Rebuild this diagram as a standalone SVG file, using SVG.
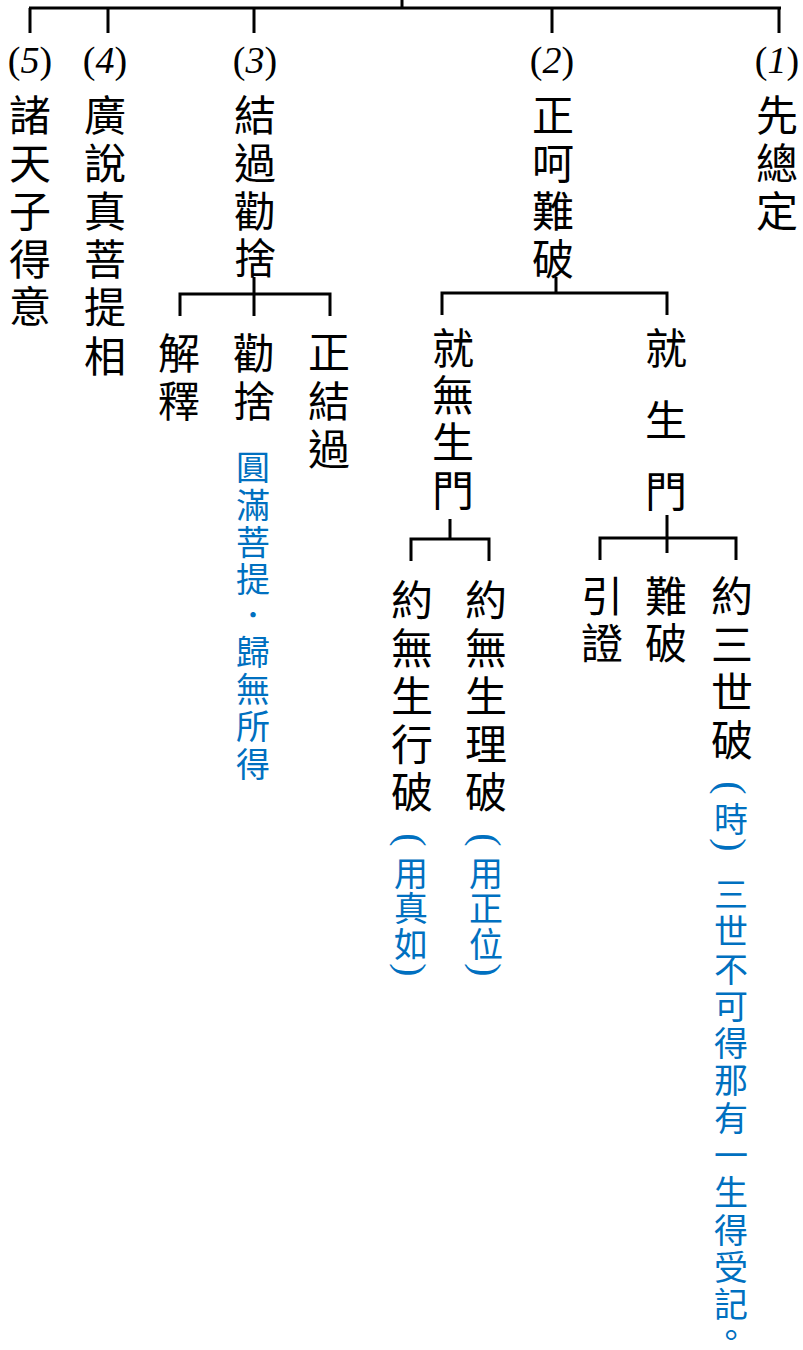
<svg xmlns="http://www.w3.org/2000/svg" width="803" height="1350" viewBox="0 0 803 1350">
<style>
.k{font-family:"Noto Sans CJK TC","Noto Sans CJK SC",sans-serif;font-size:42px;fill:#000;text-anchor:middle;dominant-baseline:central}
.b{font-family:"Noto Sans CJK TC","Noto Sans CJK SC",sans-serif;font-size:34px;fill:#0070C0;text-anchor:middle;dominant-baseline:central}
.p{font-family:"Liberation Serif",serif;font-size:40px;fill:#0070C0;text-anchor:middle;dominant-baseline:central}
.n{font-family:"Liberation Serif",serif;font-size:38px;fill:#000;text-anchor:middle}
.n tspan.d{font-style:italic}
.c{fill:none;stroke:#000;stroke-width:3;stroke-linejoin:miter;stroke-linecap:butt}
</style>
<rect width="803" height="1350" fill="#fff"/>
<g id="connectors" class="c">
<path d="M402,0 V8 M29,8 H781 M30,8 V33 M108,8 V33 M254,8 V33 M552,8 V33 M779,8 V33"/>
<path d="M254,277 V316 M180,316 V294 H330 V316"/>
<path d="M556,277 V293 M442,315 V293 H667 V315"/>
<path d="M450,519 V539 M411,561 V539 H489 V561"/>
<path d="M667,515 V553 M600,560 V538 H736 V560"/>
</g>
<g id="n5">
<text class="n" x="30" y="73">(<tspan class="d">5</tspan>)</text>
<text class="k"><tspan x="30" y="112">諸</tspan><tspan x="30" y="160">天</tspan><tspan x="30" y="208">子</tspan><tspan x="30" y="256">得</tspan><tspan x="30" y="303">意</tspan></text>
</g>
<g id="n4">
<text class="n" x="105" y="73">(<tspan class="d">4</tspan>)</text>
<text class="k"><tspan x="105" y="112">廣</tspan><tspan x="105" y="160">說</tspan><tspan x="105" y="208">真</tspan><tspan x="105" y="256">菩</tspan><tspan x="105" y="304">提</tspan><tspan x="105" y="353">相</tspan></text>
</g>
<g id="n3">
<text class="n" x="255" y="73">(<tspan class="d">3</tspan>)</text>
<text class="k"><tspan x="255" y="112">結</tspan><tspan x="255" y="160">過</tspan><tspan x="255" y="208">勸</tspan><tspan x="255" y="255">捨</tspan></text>
</g>
<g id="n3a">
<text class="k"><tspan x="179" y="350">解</tspan><tspan x="179" y="398">釋</tspan></text>
</g>
<g id="n3b">
<text class="k"><tspan x="254" y="350">勸</tspan><tspan x="254" y="398">捨</tspan></text>
<text class="b"><tspan x="253" y="465">圓</tspan><tspan x="253" y="503">滿</tspan><tspan x="253" y="540">菩</tspan><tspan x="253" y="577">提</tspan><tspan x="253" y="613">．</tspan><tspan x="253" y="650">歸</tspan><tspan x="253" y="687">無</tspan><tspan x="253" y="724">所</tspan><tspan x="253" y="762">得</tspan></text>
</g>
<g id="n3c">
<text class="k"><tspan x="329" y="349">正</tspan><tspan x="329" y="398">結</tspan><tspan x="329" y="446">過</tspan></text>
</g>
<g id="n2">
<text class="n" x="552" y="73">(<tspan class="d">2</tspan>)</text>
<text class="k"><tspan x="553" y="112">正</tspan><tspan x="553" y="160">呵</tspan><tspan x="553" y="208">難</tspan><tspan x="553" y="256">破</tspan></text>
</g>
<g id="n1">
<text class="n" x="777" y="73">(<tspan class="d">1</tspan>)</text>
<text class="k"><tspan x="777" y="112">先</tspan><tspan x="777" y="160">總</tspan><tspan x="777" y="208">定</tspan></text>
</g>
<g id="n2a">
<text class="k"><tspan x="453" y="345">就</tspan><tspan x="453" y="392">無</tspan><tspan x="453" y="439">生</tspan><tspan x="453" y="487">門</tspan></text>
</g>
<g id="n2b">
<text class="k"><tspan x="666" y="345">就</tspan><tspan x="666" y="417">生</tspan><tspan x="666" y="488">門</tspan></text>
</g>
<g id="n2a1">
<text class="k"><tspan x="412" y="597">約</tspan><tspan x="412" y="645">無</tspan><tspan x="412" y="693">生</tspan><tspan x="412" y="741">行</tspan><tspan x="412" y="789">破</tspan></text>
<text class="p" transform="translate(411,840) rotate(90)">(</text>
<text class="b"><tspan x="411" y="871">用</tspan><tspan x="411" y="906">真</tspan><tspan x="411" y="942">如</tspan></text>
<text class="p" transform="translate(411,970) rotate(90)">)</text>
</g>
<g id="n2a2">
<text class="k"><tspan x="486" y="597">約</tspan><tspan x="486" y="645">無</tspan><tspan x="486" y="693">生</tspan><tspan x="486" y="741">理</tspan><tspan x="486" y="789">破</tspan></text>
<text class="p" transform="translate(486,840) rotate(90)">(</text>
<text class="b"><tspan x="486" y="871">用</tspan><tspan x="486" y="906">正</tspan><tspan x="486" y="942">位</tspan></text>
<text class="p" transform="translate(486,970) rotate(90)">)</text>
</g>
<g id="n2b1">
<text class="k"><tspan x="602" y="593">引</tspan><tspan x="602" y="640">證</tspan></text>
</g>
<g id="n2b2">
<text class="k"><tspan x="666" y="593">難</tspan><tspan x="666" y="640">破</tspan></text>
</g>
<g id="n2b3">
<text class="k"><tspan x="732" y="593">約</tspan><tspan x="732" y="641">三</tspan><tspan x="732" y="689">世</tspan><tspan x="732" y="737">破</tspan></text>
<text class="p" transform="translate(731,788) rotate(90)">(</text>
<text class="b"><tspan x="731" y="817">時</tspan></text>
<text class="p" transform="translate(731,845) rotate(90)">)</text>
<text class="b"><tspan x="731" y="892">三</tspan><tspan x="731" y="929">世</tspan><tspan x="731" y="967">不</tspan><tspan x="731" y="1004">可</tspan><tspan x="731" y="1041">得</tspan><tspan x="731" y="1078">那</tspan><tspan x="731" y="1116">有</tspan><tspan x="731" y="1153">一</tspan><tspan x="731" y="1190">生</tspan><tspan x="731" y="1228">得</tspan><tspan x="731" y="1265">受</tspan><tspan x="731" y="1302">記</tspan><tspan x="731" y="1333">。</tspan></text>
</g>
</svg>
